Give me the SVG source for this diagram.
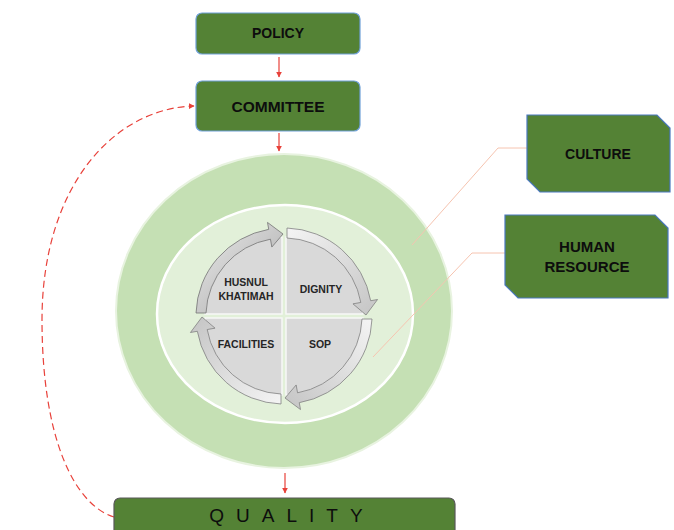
<svg xmlns="http://www.w3.org/2000/svg" width="674" height="530" viewBox="0 0 674 530">
<style>
.box{fill:#548235;stroke:#6fa0d8;stroke-width:1.2}
.snip{fill:#548235;stroke:#4a78c0;stroke-width:1.2}
.lbl{font-family:"Liberation Sans",Arial,sans-serif;font-weight:bold;fill:#0d0d0d;text-anchor:middle}
.qlbl{font-family:"Liberation Sans",Arial,sans-serif;font-weight:bold;fill:#262626;text-anchor:middle;font-size:10.5px}
.red{stroke:#e8413a;stroke-width:1.2;fill:none}
.lead{stroke:#f6c4b0;stroke-width:1;fill:none}
.pie{fill:#d9d9d9;stroke:#f7f7f7;stroke-width:1.5}
.band{fill:url(#gb);stroke:#808080;stroke-width:0.8}
</style>
<defs>
<marker id="ah" viewBox="0 0 10 10" refX="9" refY="5" markerWidth="6" markerHeight="6" orient="auto" markerUnits="userSpaceOnUse">
<path d="M0,0 L10,5 L0,10 z" fill="#e8413a"/>
</marker>
<linearGradient id="gb" x1="0" y1="0" x2="1" y2="1">
<stop offset="0" stop-color="#f4f4f4"/>
<stop offset="1" stop-color="#c4c4c4"/>
</linearGradient>
<linearGradient id="gd" x1="0" y1="1" x2="1" y2="0">
<stop offset="0" stop-color="#a6a6a6"/>
<stop offset="1" stop-color="#ececec"/>
</linearGradient>
<path id="arw" d="M3,-88 A88,88 0 0 1 86.66,-15.28 L93.55,-16.5 L82,-1 L68.94,-12.16 L76.82,-13.54 A78,78 0 0 0 3,-78 Z"/>
<path id="pq" d="M2,-2 L2,-79 A79,79 0 0 1 79,-2 Z"/>
</defs>

<g id="policy">
<rect class="box" x="196" y="13" width="164" height="41" rx="6"/>
<text class="lbl" x="278" y="38" font-size="14">POLICY</text>
</g>
<g id="committee">
<rect class="box" x="196" y="81" width="164" height="50" rx="6"/>
<text class="lbl" x="278" y="112" font-size="15.5">COMMITTEE</text>
</g>

<g id="circle">
<ellipse cx="284" cy="311" rx="168" ry="157" fill="#c5e0b4" stroke="#e8f3e0" stroke-width="2"/>
<ellipse cx="285" cy="314" rx="128" ry="109" fill="#e2f0d9" stroke="#ffffff" stroke-width="2.5"/>
</g>

<g id="connectors">
<line class="red" x1="279" y1="57" x2="279" y2="77" marker-end="url(#ah)"/>
<line class="red" x1="279" y1="133" x2="279" y2="151" marker-end="url(#ah)"/>
<line class="red" x1="285" y1="473" x2="285" y2="493" marker-end="url(#ah)"/>
<path class="red" stroke-dasharray="7,4" d="M114,517 C75,505 42,440 42,320 C42,185 115,108 194,106" marker-end="url(#ah)"/>
<polyline class="lead" points="527,148 498,148 412,245"/>
<polyline class="lead" points="505,253 472,253 373,357"/>
</g>

<g id="dignity" transform="translate(284,316)">
<use href="#pq" class="pie"/>
<use href="#arw" class="band"/>
<text class="qlbl" x="37" y="-23">DIGNITY</text>
</g>
<g id="sop" transform="translate(284,316)">
<use href="#pq" class="pie" transform="rotate(90)"/>
<use href="#arw" class="band" transform="rotate(90)"/>
<text class="qlbl" x="36" y="32">SOP</text>
</g>
<g id="facilities" transform="translate(284,316)">
<use href="#pq" class="pie" transform="rotate(180)"/>
<use href="#arw" class="band" transform="rotate(180)"/>
<text class="qlbl" x="-38" y="32">FACILITIES</text>
</g>
<g id="husnul" transform="translate(284,316)">
<use href="#pq" class="pie" transform="rotate(270)"/>
<use href="#arw" fill="url(#gd)" stroke="#737373" stroke-width="0.8" transform="rotate(270)"/>
<text class="qlbl" x="-38" y="-30">HUSNUL</text>
<text class="qlbl" x="-38" y="-16">KHATIMAH</text>
</g>

<g id="culture">
<path class="snip" d="M527,115 L657,115 L670,128 L670,192 L540,192 L527,179 Z"/>
<text class="lbl" x="598" y="159" font-size="14">CULTURE</text>
</g>
<g id="human-resource">
<path class="snip" d="M505,215 L655,215 L668,228 L668,298 L518,298 L505,285 Z"/>
<text class="lbl" x="587" y="252" font-size="15">HUMAN</text>
<text class="lbl" x="587" y="272" font-size="15">RESOURCE</text>
</g>

<g id="quality">
<rect x="114" y="498" width="341" height="50" rx="6" fill="#548235" stroke="#595959" stroke-width="1.2"/>
<text x="292" y="522" font-family="'Liberation Sans',Arial,sans-serif" font-size="19" fill="#0d0d0d" text-anchor="middle" letter-spacing="12">QUALITY</text>
</g>
</svg>
